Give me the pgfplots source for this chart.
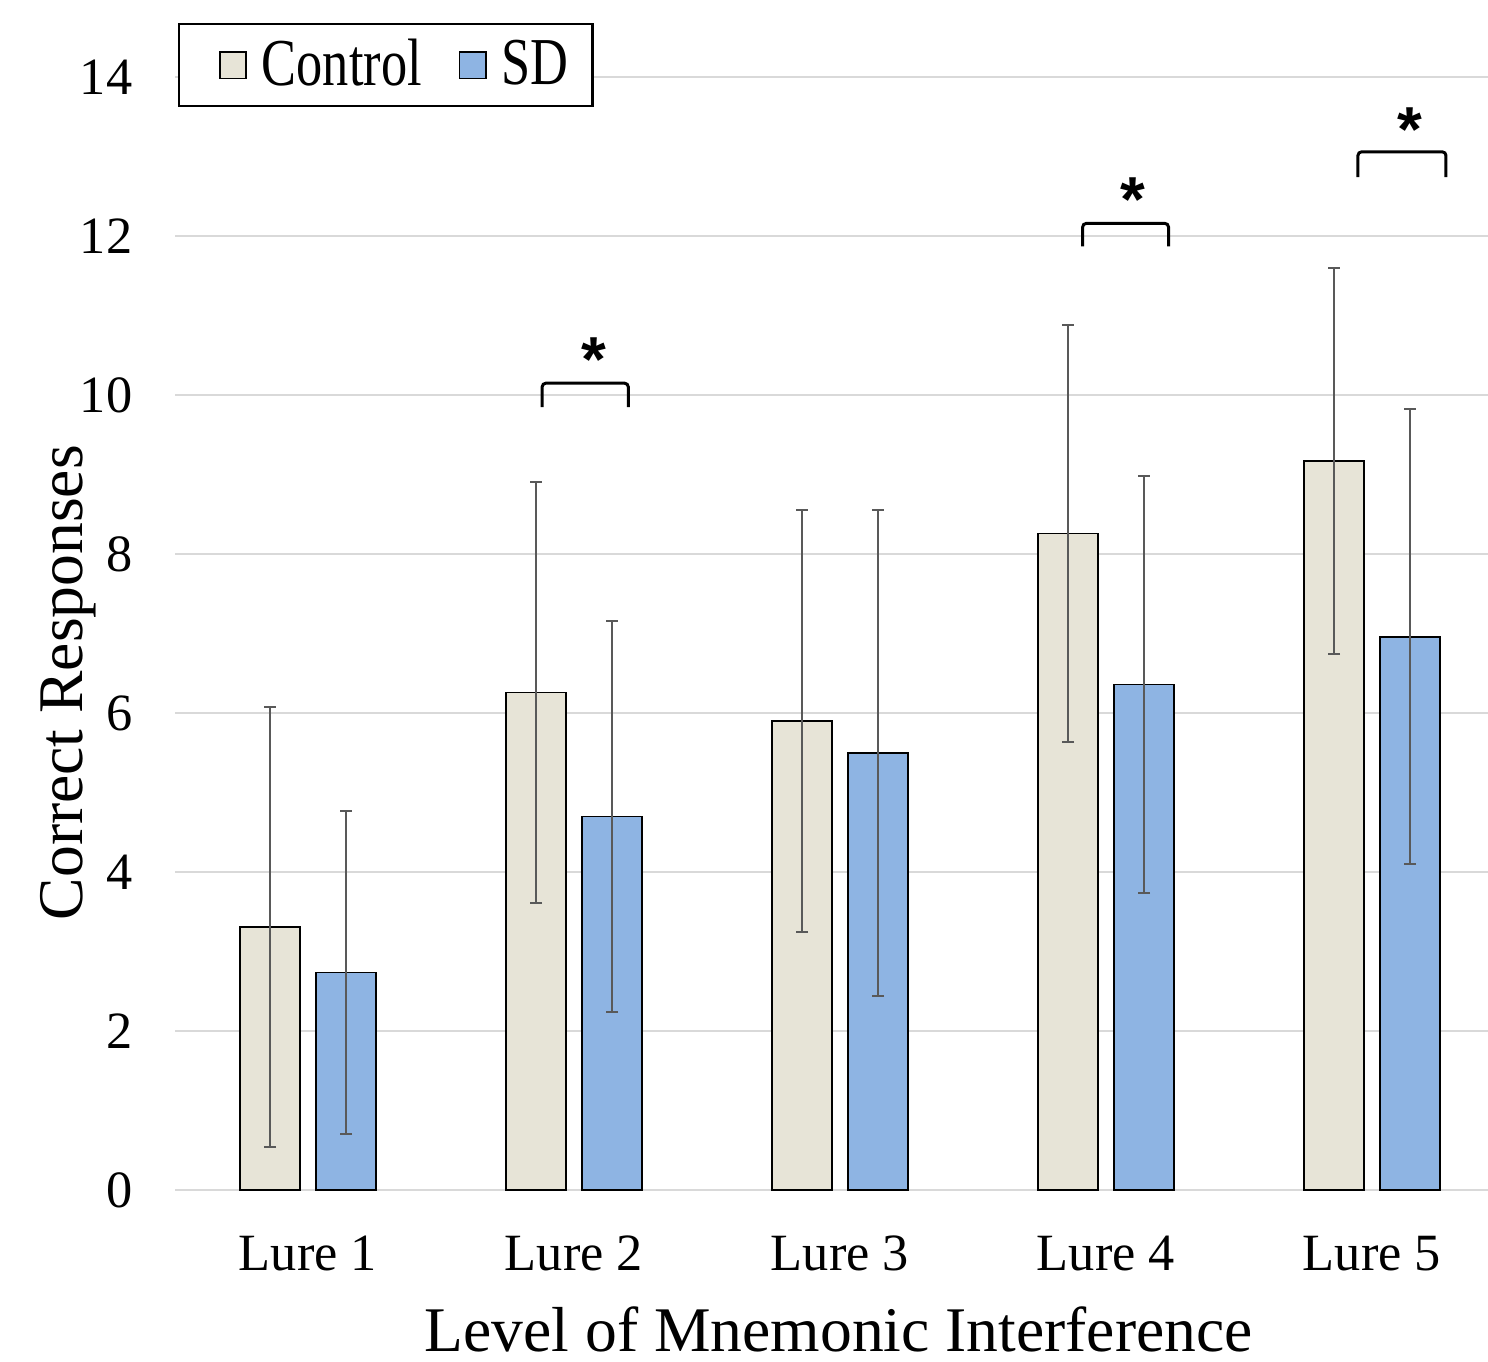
\documentclass[border=0pt]{standalone}
\usepackage{pgfplots}
\pgfplotsset{compat=1.18}
\usepackage{graphicx}
\usepackage{fontspec}
\setmainfont{Liberation Serif}
\newfontfamily\starfont{Liberation Sans}
\definecolor{ctrlfill}{HTML}{E7E4D7}
\definecolor{sdfill}{HTML}{8EB4E3}
\definecolor{errgray}{HTML}{595959}
\definecolor{gridgray}{HTML}{D9D9D9}

\pgfplotsset{
    sqfirst/.style={legend image code/.code={\path (-8.3pt,0pt); \draw[##1, line width=0.4pt] (0pt,-3.5pt) rectangle (7pt,3.5pt);}},
    sqnext/.style={legend image code/.code={\draw[##1, line width=0.4pt] (0pt,-3.5pt) rectangle (7pt,3.5pt);}},
    errs/.style={error bars/.cd, y dir=both, y explicit,
        error bar style={errgray, line width=0.55pt},
        error mark options={errgray, line width=0.55pt, rotate=90, mark size=1.6pt}},
}

\begin{document}
\begin{tikzpicture}
\begin{axis}[
    scale only axis,
    width=351pt, height=297.6pt,
    ybar=4.32pt, bar width=16pt,
    xmin=-0.5, xmax=4.436,
    ymin=0, ymax=14,
    xtick={0,1,2,3,4},
    xticklabels={Lure 1,Lure 2,Lure 3,Lure 4,Lure 5},
    ytick={0,2,...,14},
    ymajorgrids,
    grid style={gridgray, line width=0.5pt},
    axis line style={draw=none},
    major tick length=0pt,
    clip=false,
    /pgf/number format/assume math mode=true,
    tick label style={font=\fontsize{14}{16}\selectfont},
    xticklabel style={anchor=base, yshift=-21.4pt},
    yticklabel style={anchor=east, xshift=-7.9pt},
    xlabel={Level of Mnemonic Interference},
    ylabel={Correct Responses},
    label style={font=\fontsize{17}{19}\selectfont},
    xlabel style={at={(axis description cs:0.5055,-0.1249)}, anchor=center},
    ylabel style={at={(axis description cs:-0.0810,0.456)}, anchor=center},
    legend columns=2,
    legend style={
        at={(axis description cs:0.0023,1.0485)}, anchor=north west,
        draw=black, line width=0.6pt,
        inner xsep=2.4pt, inner ysep=2pt,
        column sep=0pt,
        font=\fontsize{14}{16}\selectfont,
        nodes={inner xsep=4pt, inner ysep=2pt},
        /tikz/every even column/.append style={column sep=5.9pt},
    },
]

% Control
\addplot[fill=ctrlfill, draw=black, line width=0.4pt, sqfirst, errs]
coordinates {
    (0, 3.31) +- (0, 2.77)
    (1, 6.26) +- (0, 2.65)
    (2, 5.90) +- (0, 2.65)
    (3, 8.26) +- (0, 2.62)
    (4, 9.17) +- (0, 2.43)
};
\addlegendentry{\scalebox{1}[1.28]{Control}}

% SD
\addplot[fill=sdfill, draw=black, line width=0.4pt, sqnext, errs]
coordinates {
    (0, 2.74) +- (0, 2.03)
    (1, 4.70) +- (0, 2.46)
    (2, 5.50) +- (0, 3.06)
    (3, 6.36) +- (0, 2.62)
    (4, 6.96) +- (0, 2.86)
};
\addlegendentry{\scalebox{1}[1.28]{SD}}

% significance brackets
\draw[line width=0.8pt, rounded corners=1pt] (axis cs:0.880,9.85) |- (axis cs:1.204,10.15) -- (axis cs:1.204,9.85);
\draw[line width=0.8pt, rounded corners=1pt] (axis cs:2.912,11.87) |- (axis cs:3.235,12.16) -- (axis cs:3.235,11.87);
\draw[line width=0.8pt, rounded corners=1pt] (axis cs:3.947,12.74) |- (axis cs:4.278,13.06) -- (axis cs:4.278,12.74);
\node[font=\starfont\bfseries\fontsize{17}{17}\selectfont, yshift=-2.7pt] at (axis cs:1.073,10.57) {*};
\node[font=\starfont\bfseries\fontsize{17}{17}\selectfont, yshift=-2.7pt] at (axis cs:3.100,12.58) {*};
\node[font=\starfont\bfseries\fontsize{17}{17}\selectfont, yshift=-2.7pt] at (axis cs:4.143,13.46) {*};
\end{axis}
\pgfresetboundingbox
\path[use as bounding box] ([shift={(-46.8pt,-45.7pt)}]current axis.south west) rectangle ([shift={(0pt,318.2pt)}]current axis.south east);
\end{tikzpicture}
\end{document}
